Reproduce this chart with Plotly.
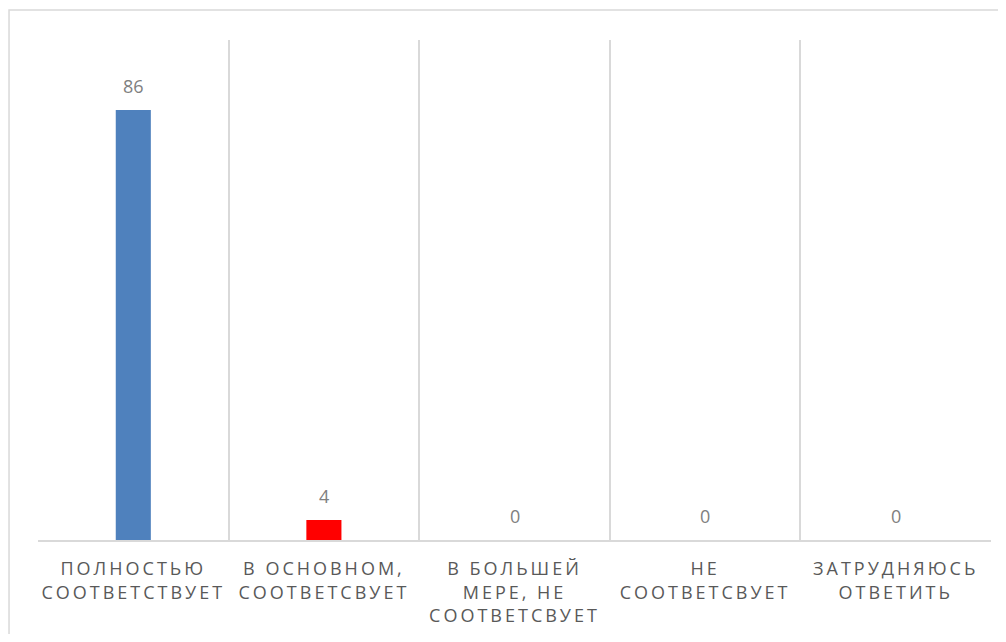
import plotly.graph_objects as go

categories = ["Полностью соответствует", "В основном, соответсвует",
              "В большей мере, не соответсвует", "Не соответсвует",
              "Затрудняюсь ответить"]
tick_lines = [["ПОЛНОСТЬЮ", "СООТВЕТСТВУЕТ"],
              ["В ОСНОВНОМ,", "СООТВЕТСВУЕТ"],
              ["В БОЛЬШЕЙ", "МЕРЕ, НЕ", "СООТВЕТСВУЕТ"],
              ["НЕ", "СООТВЕТСВУЕТ"],
              ["ЗАТРУДНЯЮСЬ", "ОТВЕТИТЬ"]]
values = [86, 4, 0, 0, 0]
bar_colors = ["#4f81bd", "#ff0000", "#4f81bd", "#4f81bd", "#4f81bd"]

FONT = "Open Sans"
ticktext = ["<br>".join(f"<span style='letter-spacing:3px'>{l}</span>" for l in lines)
            for lines in tick_lines]

fig = go.Figure()
fig.add_trace(go.Bar(x=categories, y=values, marker_color=bar_colors,
                     marker_line_width=0, width=0.184, hoverinfo="skip"))

for c, v in zip(categories, values):
    fig.add_annotation(x=c, y=v, text=str(v), showarrow=False, yshift=24,
                       font=dict(family=FONT, size=18, color="#808080"))

fig.add_shape(type="rect", xref="paper", yref="paper",
              x0=-0.0304, x1=1.05, y0=-0.25, y1=1.06,
              line=dict(color="#d9d9d9", width=1.5), layer="below")

fig.update_layout(
    width=990, height=626,
    margin=dict(l=30, r=7, t=32, b=94),
    paper_bgcolor="white", plot_bgcolor="white",
    showlegend=False,
    font=dict(family=FONT, color="#595959"),
    xaxis=dict(tickmode="array", tickvals=categories, ticktext=ticktext,
               tickson="boundaries", showgrid=True, gridcolor="#d9d9d9", gridwidth=1.5,
               showline=True, linecolor="#d9d9d9", linewidth=1.5,
               ticks="", ticklabelstandoff=12, tickangle=0,
               tickfont=dict(family=FONT, size=18, color="#595959"),
               fixedrange=True),
    yaxis=dict(range=[0, 100], showgrid=False, showticklabels=False,
               zeroline=False, showline=False, fixedrange=True),
)

fig.write_html("out.html", config={"displayModeBar": False})
